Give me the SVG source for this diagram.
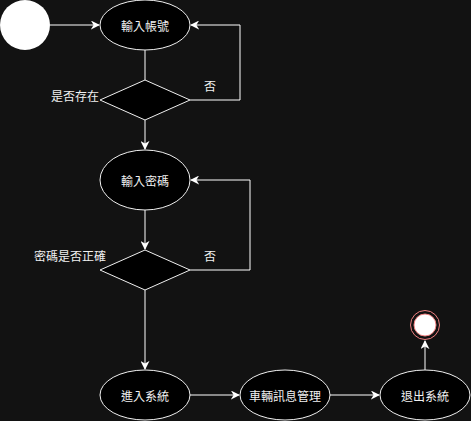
<svg xmlns="http://www.w3.org/2000/svg" width="471" height="421" viewBox="0 0 471 421">
<defs>
<style>
.node{fill:#000000;stroke:#f0f0f0;stroke-width:1}
.edge{fill:none;stroke:#ffffff;stroke-width:1}
text{font-family:"Noto Sans CJK TC","Noto Sans CJK SC",sans-serif;font-size:12px;fill:#f0f0f0}
.c{text-anchor:middle;dominant-baseline:central}
</style>
<marker id="arr" viewBox="0 0 10 10" refX="9" refY="5" markerWidth="9" markerHeight="9" markerUnits="userSpaceOnUse" orient="auto">
<path d="M0,0 L10,5 L0,10 L3,5 Z" fill="#ffffff"/>
</marker>
</defs>
<rect width="471" height="421" fill="#121212"/>
<g id="connectors">
<path class="edge" d="M50,25 L99,25" marker-end="url(#arr)"/>
<path class="edge" d="M145,50 L145,80"/>
<path class="edge" d="M190,100 L240,100 L240,25 L191,25" marker-end="url(#arr)"/>
<path class="edge" d="M145,120 L145,149" marker-end="url(#arr)"/>
<path class="edge" d="M145,210 L145,249" marker-end="url(#arr)"/>
<path class="edge" d="M190,270 L250,270 L250,180 L191,180" marker-end="url(#arr)"/>
<path class="edge" d="M145,290 L145,369" marker-end="url(#arr)"/>
<path class="edge" d="M190,395 L239,395" marker-end="url(#arr)"/>
<path class="edge" d="M330,395 L379,395" marker-end="url(#arr)"/>
<path class="edge" d="M425,370 L425,341" marker-end="url(#arr)"/>
<text class="c" x="210" y="85">否</text>
<text class="c" x="210" y="255">否</text>
</g>
<g id="start"><circle cx="25" cy="25" r="25" fill="#ffffff"/></g>
<g id="n1"><ellipse class="node" cx="145" cy="25" rx="45" ry="25"/><text class="c" x="145" y="25">輸入帳號</text></g>
<g id="d1"><path class="node" d="M145,80 L190,100 L145,120 L100,100 Z"/><text x="99" y="95" text-anchor="end" dominant-baseline="central">是否存在</text></g>
<g id="n2"><ellipse class="node" cx="145" cy="180" rx="45" ry="30"/><text class="c" x="145" y="180">輸入密碼</text></g>
<g id="d2"><path class="node" d="M145,250 L190,270 L145,290 L100,270 Z"/><text x="106" y="255" text-anchor="end" dominant-baseline="central">密碼是否正確</text></g>
<g id="n3"><ellipse class="node" cx="145" cy="395" rx="45" ry="25"/><text class="c" x="145" y="395">進入系統</text></g>
<g id="n4"><ellipse class="node" cx="285" cy="395" rx="45" ry="25"/><text class="c" x="285" y="395">車輛訊息管理</text></g>
<g id="n5"><ellipse class="node" cx="425" cy="395" rx="45" ry="25"/><text class="c" x="425" y="395">退出系統</text></g>
<g id="end"><circle cx="425" cy="325" r="14.5" fill="#121212" stroke="#f08080" stroke-width="1"/><circle cx="425" cy="325" r="11" fill="#ffffff" stroke="#f08080" stroke-width="1"/></g>
</svg>
